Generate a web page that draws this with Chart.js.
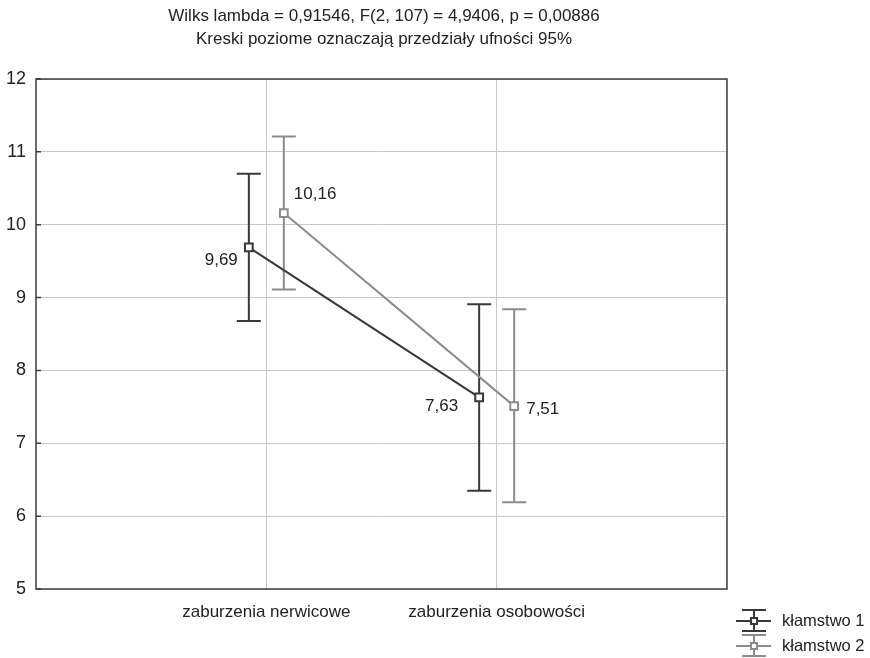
<!DOCTYPE html>
<html>
<head>
<meta charset="utf-8">
<script src="https://cdn.jsdelivr.net/npm/chart.js@4.4.1/dist/chart.umd.min.js"></script>
<style>
  html, body { margin: 0; padding: 0; background: #fff; }
  #wrap { width: 870px; height: 658px; }
</style>
</head>
<body>
<div id="wrap"><canvas id="chart"></canvas></div>
<script>
// data
const categories = ['zaburzenia nerwicowe', 'zaburzenia osobowości'];
const seriesNames = ['kłamstwo 1', 'kłamstwo 2'];
const means1 = [9.69, 7.63];
const lower1 = [8.68, 6.35];
const upper1 = [10.70, 8.91];
const means2 = [10.16, 7.51];
const lower2 = [9.11, 6.19];
const upper2 = [11.21, 8.84];
const yTicks = [5, 6, 7, 8, 9, 10, 11, 12];
const titleLines = [
  'Wilks lambda = 0,91546, F(2, 107) = 4,9406, p = 0,00886',
  'Kreski poziome oznaczają przedziały ufności 95%'
];

// styling
const FONT = '"Liberation Sans", Arial, sans-serif';
const colors = ['#383838', '#8c8c8c'];
const shift = [-0.076, 0.076];           // horizontal offset of each series around its category
// label placement per series/point: [dx, dy, align]
const labelPos = [
  [[-11, 13, 'right'], [-21, 9, 'right']],
  [[10, -19, 'left'], [12, 3, 'left']]
];

const fmt = v => v.toFixed(2).replace('.', ',');

function buildSeries(s, means, lo, hi) {
  return {
    label: seriesNames[s],
    data: means.map((m, i) => ({ x: i + 1 + shift[s], y: m, lo: lo[i], hi: hi[i] })),
    showLine: true,
    borderColor: colors[s],
    borderWidth: 2,
    pointStyle: 'rect',
    pointRadius: 5.5,
    pointHoverRadius: 5.5,
    pointBorderWidth: 2,
    pointBackgroundColor: '#fff',
    pointBorderColor: colors[s]
  };
}

// error bars, box, inner ticks, labels, titles, legend
const decor = {
  id: 'decor',
  beforeDatasetsDraw(chart) {
    const { ctx, scales: { x, y } } = chart;
    ctx.save();
    ctx.lineWidth = 2;
    chart.data.datasets.forEach((ds, s) => {
      ctx.strokeStyle = colors[s];
      ds.data.forEach(p => {
        const px = x.getPixelForValue(p.x);
        const yt = y.getPixelForValue(p.hi), yb = y.getPixelForValue(p.lo);
        ctx.beginPath();
        ctx.moveTo(px, yt); ctx.lineTo(px, yb);
        ctx.moveTo(px - 12, yt); ctx.lineTo(px + 12, yt);
        ctx.moveTo(px - 12, yb); ctx.lineTo(px + 12, yb);
        ctx.stroke();
      });
    });
    ctx.restore();
  },
  afterDatasetsDraw(chart) {
    const { ctx, chartArea: a, scales: { x, y } } = chart;
    ctx.save();
    // value labels
    ctx.font = '17px ' + FONT;
    ctx.fillStyle = '#222';
    ctx.textBaseline = 'middle';
    chart.data.datasets.forEach((ds, s) => {
      ds.data.forEach((p, i) => {
        const [dx, dy, al] = labelPos[s][i];
        ctx.textAlign = al;
        ctx.fillText(fmt(p.y), x.getPixelForValue(p.x) + dx, y.getPixelForValue(p.y) + dy);
      });
    });
    // frame
    ctx.strokeStyle = '#3c3c3c';
    ctx.lineWidth = 1.5;
    ctx.strokeRect(a.left, a.top, a.right - a.left, a.bottom - a.top);
    // short inner ticks on the y axis
    ctx.beginPath();
    y.ticks.forEach(t => {
      const py = y.getPixelForValue(t.value);
      ctx.moveTo(a.left, py); ctx.lineTo(a.left + 5, py);
    });
    ctx.stroke();
    // titles
    ctx.font = '17px ' + FONT;
    ctx.fillStyle = '#222';
    ctx.textAlign = 'center';
    titleLines.forEach((t, i) => ctx.fillText(t, 384, 16 + i * 23));
    // legend
    chart.data.datasets.forEach((ds, s) => {
      const cy = 621 + s * 25;
      const cx = 754;
      ctx.strokeStyle = colors[s];
      ctx.lineWidth = 2;
      ctx.beginPath();
      ctx.moveTo(cx - 18, cy); ctx.lineTo(cx + 17, cy);
      ctx.moveTo(cx, cy - 11); ctx.lineTo(cx, cy + 10);
      ctx.moveTo(cx - 12, cy - 11); ctx.lineTo(cx + 12, cy - 11);
      ctx.moveTo(cx - 12, cy + 10); ctx.lineTo(cx + 12, cy + 10);
      ctx.stroke();
      ctx.fillStyle = '#fff';
      ctx.fillRect(cx - 3, cy - 3, 6, 6);
      ctx.strokeRect(cx - 3, cy - 3, 6, 6);
      ctx.fillStyle = '#222';
      ctx.font = '16.5px ' + FONT;
      ctx.textAlign = 'left';
      ctx.fillText(ds.label, 782, cy);
    });
    ctx.restore();
  }
};

new Chart(document.getElementById('chart'), {
  type: 'scatter',
  data: {
    datasets: [
      buildSeries(0, means1, lower1, upper1),
      buildSeries(1, means2, lower2, upper2)
    ]
  },
  options: {
    responsive: true,
    maintainAspectRatio: false,
    animation: false,
    layout: { padding: { top: 79, right: 143, left: 0, bottom: 0 } },
    scales: {
      x: {
        type: 'linear',
        min: 0, max: 3,
        afterBuildTicks: sc => { sc.ticks = categories.map((_, i) => ({ value: i + 1 })); },
        afterFit: sc => { sc.height = 69; },
        grid: { color: '#c8c8c8', lineWidth: 1, drawTicks: false },
        border: { display: false },
        ticks: {
          padding: 13,
          color: '#222',
          font: { size: 17, family: FONT },
          maxRotation: 0,
          autoSkip: false,
          callback: v => categories[Math.round(v) - 1]
        }
      },
      y: {
        min: 5, max: 12,
        afterBuildTicks: sc => { sc.ticks = yTicks.map(v => ({ value: v })); },
        afterFit: sc => { sc.width = 36; },
        grid: { color: '#c8c8c8', lineWidth: 1, drawTicks: false },
        border: { display: false },
        ticks: {
          padding: 10,
          color: '#222',
          font: { size: 18, family: FONT }
        }
      }
    },
    plugins: {
      legend: { display: false },
      tooltip: { enabled: false },
      title: { display: false }
    }
  },
  plugins: [decor]
});
</script>
</body>
</html>
